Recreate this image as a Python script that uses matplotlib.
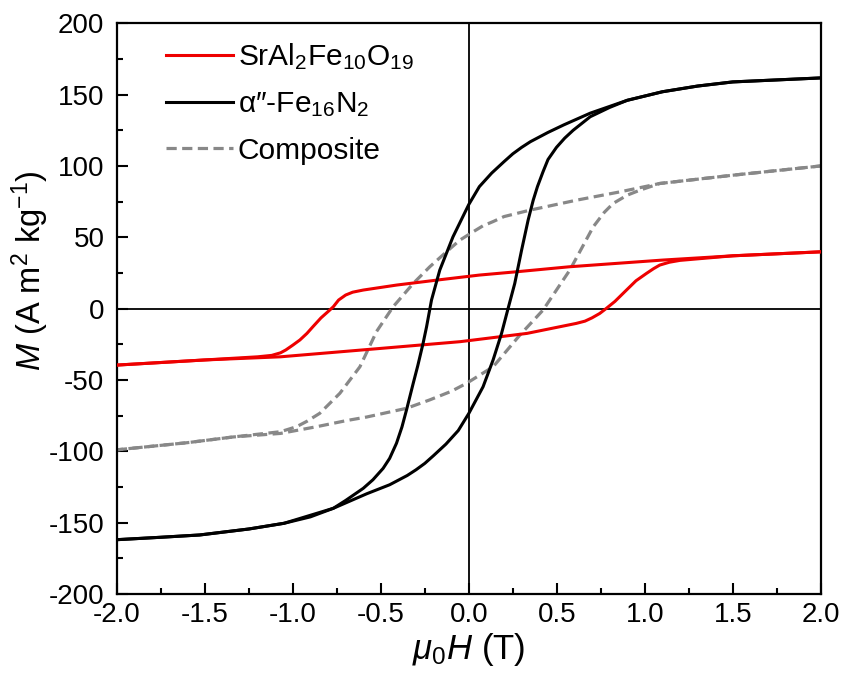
import numpy as np
import matplotlib
matplotlib.use("Agg")
import matplotlib.pyplot as plt
from matplotlib.ticker import MultipleLocator, FormatStrFormatter

plt.rcParams['font.family'] = ['Liberation Sans', 'DejaVu Sans']
plt.rcParams['mathtext.fontset'] = 'custom'
plt.rcParams['mathtext.rm'] = 'Liberation Sans'
plt.rcParams['mathtext.it'] = 'Liberation Sans:italic'
plt.rcParams['axes.unicode_minus'] = False

# SrAl2Fe10O19 - descending branch (from +H) and ascending branch (from -H)
h_sr_down = [2.0, 1.5, 1.1, 0.57, 0.27, 0.06, -0.18, -0.41, -0.6, -0.66, -0.7, -0.74, -0.77, -0.79,
             -0.84, -0.886, -0.92, -0.96, -1.0, -1.04, -1.07, -1.12, -1.2, -1.5, -2.0]
m_sr_down = [39.8, 37.0, 34.0, 29.3, 25.8, 23.5, 20.0, 16.5, 13.0, 11.5, 9.5, 6.0, 1.3, -1.0,
             -6.5, -12.7, -17.4, -22.0, -25.6, -29.0, -31.0, -32.8, -33.8, -36.0, -39.6]
h_sr_up = [-2.0, -1.5, -1.07, -0.5, -0.05, 0.33, 0.61, 0.66, 0.7, 0.744, 0.78, 0.83, 0.896,
           0.95, 1.01, 1.05, 1.085, 1.14, 1.2, 1.5, 2.0]
m_sr_up = [-39.6, -36.0, -33.8, -27.9, -23.2, -17.4, -10.4, -8.8, -6.5, -3.4, 0.0, 5.0, 13.0,
           19.5, 24.7, 28.0, 30.5, 32.5, 33.8, 37.0, 39.8]

# alpha''-Fe16N2
h_fn_down = [2.0, 1.75, 1.5, 1.3, 1.1, 0.9, 0.69, 0.54, 0.45, 0.35, 0.3, 0.25, 0.2, 0.13, 0.06,
             0.0, -0.09, -0.165, -0.212, -0.24, -0.26, -0.29, -0.316, -0.354, -0.38, -0.411,
             -0.45, -0.487, -0.545, -0.6, -0.7, -0.77, -0.9, -1.05, -1.25, -1.53, -1.75, -2.0]
m_fn_down = [161.7, 160.3, 158.9, 156.0, 152.0, 146.0, 137.0, 128.8, 123.5, 117.0, 113.0, 108.5,
             103.0, 95.0, 85.5, 73.0, 50.3, 27.0, 6.0, -12.7, -24.4, -40.0, -52.4, -71.0, -83.0,
             -94.4, -105.0, -112.0, -120.0, -126.0, -134.5, -140.0, -146.0, -150.5, -154.5,
             -158.7, -160.3, -162.0]
h_fn_up = [-2.0, -1.75, -1.53, -1.25, -1.05, -0.77, -0.58, -0.45, -0.35, -0.3, -0.25, -0.2,
           -0.13, -0.06, 0.0, 0.081, 0.138, 0.186, 0.223, 0.261, 0.3, 0.337, 0.366, 0.39,
           0.422, 0.45, 0.498, 0.545, 0.593, 0.69, 0.8, 0.9, 1.1, 1.3, 1.5, 1.75, 2.0]
m_fn_up = [-162.0, -160.3, -158.7, -154.5, -150.5, -140.0, -129.8, -123.5, -117.0, -113.0,
           -108.5, -103.0, -95.0, -85.5, -73.5, -54.8, -36.0, -17.4, 0.0, 17.6, 41.0, 62.0,
           76.0, 85.5, 96.0, 104.5, 113.0, 119.5, 125.0, 134.5, 141.0, 146.0, 152.0, 156.0,
           158.9, 160.3, 161.7]

# Composite
h_cp_down = [2.0, 1.5, 1.085, 0.858, 0.612, 0.347, 0.2, 0.138, 0.08, 0.024, -0.051, -0.127, -0.222,
             -0.316, -0.43, -0.524, -0.619, -0.733, -0.847, -0.92, -0.979, -1.07, -1.34, -1.6, -2.0]
m_cp_down = [100.0, 93.5, 87.7, 81.8, 76.0, 69.0, 64.5, 61.0, 58.0, 53.8, 48.0, 39.8, 29.3,
             17.6, 1.3, -16.0, -40.8, -59.4, -73.4, -79.0, -82.8, -86.3, -90.0, -94.0, -99.0]
h_cp_up = [-2.0, -1.6, -1.34, -1.07, -0.865, -0.695, -0.58, -0.354, -0.222, -0.1, -0.013, 0.138,
           0.29, 0.422, 0.498, 0.574, 0.64, 0.707, 0.77, 0.82, 0.9, 0.972, 1.085, 1.5, 2.0]
m_cp_up = [-99.0, -94.0, -90.0, -87.5, -82.8, -78.5, -76.0, -69.9, -64.0, -58.0, -52.4, -40.8,
           -18.6, -1.0, 13.0, 27.0, 42.0, 57.3, 67.5, 73.7, 79.5, 83.0, 87.7, 93.5, 100.0]

fig = plt.figure(figsize=(8.47, 6.85), dpi=100)
ax = fig.add_axes([0.138, 0.133, 0.831, 0.833])

ax.axhline(0, color='black', lw=1.3, zorder=1)
ax.axvline(0, color='black', lw=1.3, zorder=1)

red = '#ee0000'
gray = '#888888'
ax.plot(h_sr_down, m_sr_down, color=red, lw=2.2, label=r'SrAl$_2$Fe$_{10}$O$_{19}$', zorder=3)
ax.plot(h_sr_up, m_sr_up, color=red, lw=2.2, zorder=3)
ax.plot(h_fn_down, m_fn_down, color='black', lw=2.2, label='α″-Fe$_{16}$N$_2$', zorder=3)
ax.plot(h_fn_up, m_fn_up, color='black', lw=2.2, zorder=3)
ax.plot(h_cp_down, m_cp_down, color=gray, lw=2.3, ls=(0, (3.2, 1.7)), label='Composite', zorder=2)
ax.plot(h_cp_up, m_cp_up, color=gray, lw=2.3, ls=(0, (3.2, 1.7)), zorder=2)

ax.set_xlim(-2.0, 2.0)
ax.set_ylim(-200, 200)
ax.xaxis.set_major_locator(MultipleLocator(0.5))
ax.xaxis.set_minor_locator(MultipleLocator(0.25))
ax.yaxis.set_major_locator(MultipleLocator(50))
ax.yaxis.set_minor_locator(MultipleLocator(25))
ax.xaxis.set_major_formatter(FormatStrFormatter('%.1f'))
ax.tick_params(which='both', direction='in', top=False, right=False, width=1.5)
ax.tick_params(which='major', length=8, labelsize=20)
ax.tick_params(which='minor', length=4.5)
ax.tick_params(axis='x', which='major', pad=6)
ax.tick_params(axis='y', which='major', pad=9)
for s in ax.spines.values():
    s.set_linewidth(1.6)

ax.set_xlabel(r'$\mu_{\mathit{0}}H$ (T)', fontsize=25, labelpad=2)
ax.set_ylabel(r'$M$ (A m$^2$ kg$^{-1}$)', fontsize=23.5, labelpad=-2, y=0.567)

ax.legend(loc='upper left', frameon=False, fontsize=21.5, handlelength=2.25,
          handletextpad=0.15, labelspacing=0.6, borderaxespad=0.3,
          bbox_to_anchor=(0.04, 1.005))

fig.savefig('out.png', dpi=100)
